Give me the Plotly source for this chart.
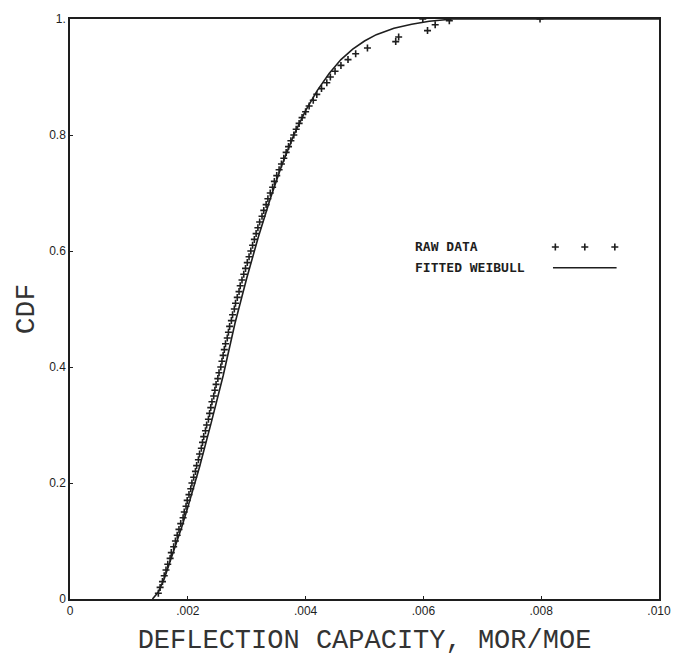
import plotly.graph_objects as go

# Raw data (empirical CDF), x in MOR/MOE
raw_x = [0.00150, 0.00153, 0.00157, 0.00160, 0.00163, 0.00166, 0.00170, 0.00172, 0.00176, 0.00179,
         0.00182, 0.00185, 0.00188, 0.00192, 0.00194, 0.00197, 0.00199, 0.00202, 0.00205, 0.00207,
         0.00210, 0.00213, 0.00215, 0.00218, 0.00220, 0.00223, 0.00225, 0.00227, 0.00230, 0.00232,
         0.00235, 0.00237, 0.00239, 0.00241, 0.00244, 0.00246, 0.00248, 0.00251, 0.00253, 0.00256,
         0.00258, 0.00260, 0.00262, 0.00264, 0.00267, 0.00269, 0.00271, 0.00274, 0.00276, 0.00279,
         0.00281, 0.00284, 0.00287, 0.00289, 0.00292, 0.00295, 0.00298, 0.00301, 0.00304, 0.00307,
         0.00310, 0.00313, 0.00316, 0.00319, 0.00322, 0.00326, 0.00329, 0.00333, 0.00336, 0.00340,
         0.00344, 0.00347, 0.00351, 0.00355, 0.00359, 0.00363, 0.00367, 0.00371, 0.00375, 0.00380,
         0.00384, 0.00389, 0.00394, 0.00400, 0.00406, 0.00413, 0.00419, 0.00427, 0.00436, 0.00442,
         0.00450, 0.00460, 0.00472, 0.00485, 0.00505, 0.00553, 0.00558, 0.00607, 0.00620, 0.00599,
         0.00644, 0.00798]
raw_y = [0.01, 0.02, 0.03, 0.04, 0.05, 0.06, 0.07, 0.08, 0.09, 0.10,
         0.11, 0.12, 0.13, 0.14, 0.15, 0.16, 0.17, 0.18, 0.19, 0.20,
         0.21, 0.22, 0.23, 0.24, 0.25, 0.26, 0.27, 0.28, 0.29, 0.30,
         0.31, 0.32, 0.33, 0.34, 0.35, 0.36, 0.37, 0.38, 0.39, 0.40,
         0.41, 0.42, 0.43, 0.44, 0.45, 0.46, 0.47, 0.48, 0.49, 0.50,
         0.51, 0.52, 0.53, 0.54, 0.55, 0.56, 0.57, 0.58, 0.59, 0.60,
         0.61, 0.62, 0.63, 0.64, 0.65, 0.66, 0.67, 0.68, 0.69, 0.70,
         0.71, 0.72, 0.73, 0.74, 0.75, 0.76, 0.77, 0.78, 0.79, 0.80,
         0.81, 0.82, 0.83, 0.84, 0.85, 0.86, 0.87, 0.88, 0.89, 0.90,
         0.91, 0.92, 0.93, 0.94, 0.95, 0.961, 0.969, 0.98, 0.99, 1.0,
         0.997, 1.0]

# Fitted Weibull curve
fit_x = [0.00140, 0.00150, 0.00160, 0.00170, 0.00180, 0.00190, 0.00200, 0.00210, 0.00220, 0.00240,
         0.00260, 0.00280, 0.00300, 0.00320, 0.00340, 0.00360, 0.00380, 0.00400, 0.00420, 0.00440,
         0.00460, 0.00480, 0.00500, 0.00520, 0.00550, 0.00580, 0.00610, 0.00650, 0.01000]
fit_y = [0.0, 0.012, 0.035, 0.065, 0.092, 0.125, 0.158, 0.193, 0.228, 0.305,
         0.385, 0.475, 0.553, 0.625, 0.690, 0.749, 0.800, 0.842, 0.877, 0.906,
         0.930, 0.948, 0.962, 0.973, 0.984, 0.991, 0.996, 1.0, 1.0]

x_tickvals = [0, 0.002, 0.004, 0.006, 0.008, 0.010]
x_ticktext = ["0", ".002", ".004", ".006", ".008", ".010"]
y_tickvals = [0, 0.2, 0.4, 0.6, 0.8, 1.0]
y_ticktext = ["0", "0.2", "0.4", "0.6", "0.8", "1."]

legend_labels = ["RAW DATA", "FITTED WEIBULL"]

ink = "#1e1e1e"
legend_font = dict(family="DejaVu Sans Mono", size=13, color=ink)
fig = go.Figure()
fig.add_trace(go.Scatter(x=fit_x, y=fit_y, mode="lines",
                         line=dict(color=ink, width=1.6), showlegend=False))
fig.add_trace(go.Scatter(x=raw_x, y=raw_y, mode="markers",
                         marker=dict(symbol="cross-thin", size=5, line=dict(color=ink, width=1.6)),
                         showlegend=False))

# legend drawn inside plot
fig.add_annotation(x=0.00582, y=0.607, xref="x", yref="y", text="<b>" + legend_labels[0] + "</b>",
                   showarrow=False, xanchor="left", font=legend_font)
fig.add_annotation(x=0.00582, y=0.571, xref="x", yref="y", text="<b>" + legend_labels[1] + "</b>",
                   showarrow=False, xanchor="left", font=legend_font)
fig.add_trace(go.Scatter(x=[0.00824, 0.00874, 0.00925], y=[0.607, 0.607, 0.607], mode="markers",
                         marker=dict(symbol="cross-thin", size=5, line=dict(color=ink, width=1.6)),
                         showlegend=False))
fig.add_trace(go.Scatter(x=[0.00820, 0.00928], y=[0.571, 0.571], mode="lines",
                         line=dict(color=ink, width=1.6), showlegend=False))

fig.update_layout(
    width=683, height=664,
    margin=dict(l=70, r=20, t=14, b=65),
    paper_bgcolor="white", plot_bgcolor="white",
    font=dict(family="Liberation Sans", color=ink),
)
fig.update_xaxes(range=[0, 0.010], tickvals=x_tickvals, ticktext=x_ticktext,
                 showgrid=False, zeroline=False, showline=True, linecolor=ink, linewidth=1.5,
                 mirror=True, ticks="inside", ticklen=3, tickcolor=ink,
                 tickfont=dict(size=12, family="Liberation Sans Narrow, Liberation Sans"),
                 title=dict(text="DEFLECTION CAPACITY, MOR/MOE",
                            font=dict(family="Liberation Mono", size=27, color="#333"), standoff=12))
fig.update_yaxes(range=[0, 1.0], tickvals=y_tickvals, ticktext=y_ticktext,
                 showgrid=False, zeroline=False, showline=True, linecolor=ink, linewidth=1.5,
                 mirror=True, ticks="inside", ticklen=3, tickcolor=ink,
                 tickfont=dict(size=12, family="Liberation Sans Narrow, Liberation Sans"),
                 title=dict(text="CDF", font=dict(family="Liberation Mono", size=28, color="#333"), standoff=6))

fig.write_html("out.html")
